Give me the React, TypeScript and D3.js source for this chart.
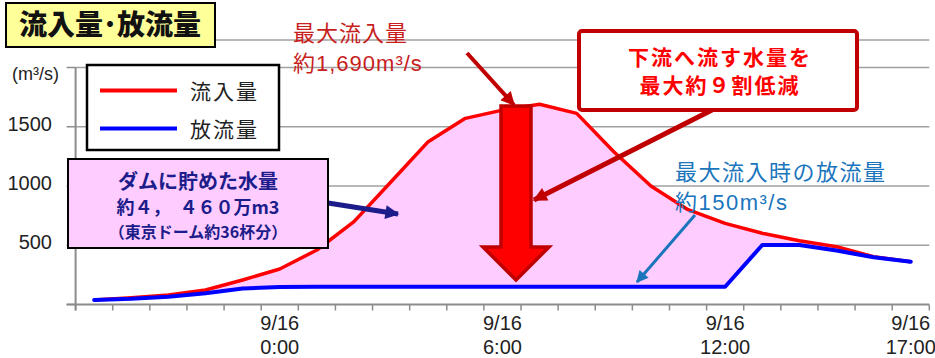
import React, { useEffect, useRef } from "react";
import * as d3 from "d3";

// hourly categories, 9/15 19:00 .. 9/16 17:00
const categories = [
  "9/15 19:00", "9/15 20:00", "9/15 21:00", "9/15 22:00", "9/15 23:00",
  "9/16 0:00", "9/16 1:00", "9/16 2:00", "9/16 3:00", "9/16 4:00", "9/16 5:00",
  "9/16 6:00", "9/16 7:00", "9/16 8:00", "9/16 9:00", "9/16 10:00", "9/16 11:00",
  "9/16 12:00", "9/16 13:00", "9/16 14:00", "9/16 15:00", "9/16 16:00", "9/16 17:00",
];
const inflow = [38, 57, 80, 122, 207, 300, 460, 699, 1036, 1374, 1571, 1640, 1690, 1613, 1289, 1000, 800, 685, 601, 538, 488, 403, 361];
const outflow = [38, 48, 66, 95, 135, 148, 150, 150, 150, 150, 150, 150, 150, 150, 150, 150, 150, 150, 502, 502, 455, 398, 361];
const xTickLabels = ["9/16 0:00", "9/16 6:00", "9/16 12:00", "9/16 17:00"];
const yTicks = [0, 500, 1000, 1500, 2000];
const yLabels = [500, 1000, 1500];

const latin = "'Liberation Sans', Arial, 'Noto Sans CJK JP', sans-serif";
const jp = "'Noto Sans CJK JP', 'Liberation Sans', sans-serif";

const App = () => {
  const svgRef = useRef<SVGSVGElement>(null);

  useEffect(() => {
    const width = 935, height = 358;
    const left = 75.6, right = 929.3, top = 67.5, bottom = 304.5;
    const gridColor = "#a0a0a0", axisColor = "#8c8c8c";
    const darkRed = "#c00000", navy = "#1c1c8a", skyBlue = "#1a75bd";

    const svg = d3.select(svgRef.current)
      .attr("width", width)
      .attr("height", height)
      .html("");

    const x = d3.scaleBand().domain(categories).range([left, right]);
    const y = d3.scaleLinear().domain([0, 2000]).range([bottom, top]);
    const cx = (c: string) => (x(c) as number) + x.bandwidth() / 2;

    // arrow markers
    const defs = svg.append("defs");
    const marker = (id: string, color: string, w: number, h: number) => {
      defs.append("marker")
        .attr("id", id)
        .attr("viewBox", "0 0 10 10")
        .attr("refX", 9)
        .attr("refY", 5)
        .attr("markerUnits", "userSpaceOnUse")
        .attr("markerWidth", w)
        .attr("markerHeight", h)
        .attr("orient", "auto")
        .append("path")
        .attr("d", "M0,0 L10,5 L0,10 Z")
        .attr("fill", color);
    };
    marker("ar-red", darkRed, 16, 14);
    marker("ar-navy", navy, 18, 14);
    marker("ar-blue", skyBlue, 14, 12);

    // decorative top line
    svg.append("line")
      .attr("x1", 215).attr("x2", right).attr("y1", 40).attr("y2", 40)
      .attr("stroke", gridColor).attr("stroke-width", 1.5);

    // gridlines + left ticks
    svg.append("g").selectAll("line")
      .data(yTicks.filter((d) => d > 0))
      .enter().append("line")
      .attr("x1", left).attr("x2", right)
      .attr("y1", (d) => y(d)).attr("y2", (d) => y(d))
      .attr("stroke", gridColor).attr("stroke-width", 1.5);

    svg.append("g").selectAll("line")
      .data(yTicks)
      .enter().append("line")
      .attr("x1", left - 9).attr("x2", left)
      .attr("y1", (d) => y(d)).attr("y2", (d) => y(d))
      .attr("stroke", axisColor).attr("stroke-width", 1.5);

    // stored volume area
    const area = d3.area<number>()
      .x((_, i) => cx(categories[i]))
      .y0((_, i) => y(outflow[i]))
      .y1((d) => y(d));
    svg.append("path")
      .datum(inflow)
      .attr("d", area)
      .attr("fill", "#ffccff")
      .attr("stroke", "#ffffff")
      .attr("stroke-width", 1.5);

    // axes
    svg.append("line")
      .attr("x1", left).attr("x2", left).attr("y1", top).attr("y2", bottom + 6)
      .attr("stroke", axisColor).attr("stroke-width", 2);
    svg.append("line")
      .attr("x1", left - 9).attr("x2", right).attr("y1", bottom).attr("y2", bottom)
      .attr("stroke", axisColor).attr("stroke-width", 2);
    svg.append("g").selectAll("line")
      .data(categories.concat(["end"]))
      .enter().append("line")
      .attr("x1", (d, i) => left + i * x.bandwidth())
      .attr("x2", (d, i) => left + i * x.bandwidth())
      .attr("y1", bottom).attr("y2", bottom + 6)
      .attr("stroke", axisColor).attr("stroke-width", 1.5);

    // y labels
    svg.append("g").selectAll("text")
      .data(yLabels)
      .enter().append("text")
      .attr("x", 52).attr("y", (d) => y(d) + 4)
      .attr("text-anchor", "end")
      .style("font-family", latin).style("font-size", "20px").attr("fill", "#222")
      .text((d) => d);
    svg.append("text")
      .attr("x", 59).attr("y", y(2000) + 12)
      .attr("text-anchor", "end")
      .style("font-family", latin).style("font-size", "18px").attr("fill", "#222")
      .text("(m³/s)");

    // x labels
    const xl = svg.append("g").selectAll("text")
      .data(xTickLabels)
      .enter().append("text")
      .attr("text-anchor", "middle")
      .style("font-family", latin).style("font-size", "20px").attr("fill", "#222");
    xl.append("tspan").attr("x", (d) => cx(d)).attr("y", 330).text((d) => d.split(" ")[0]);
    xl.append("tspan").attr("x", (d) => cx(d)).attr("y", 354).text((d) => d.split(" ")[1]);

    // lines
    const line = d3.line<number>().x((_, i) => cx(categories[i])).y((d) => y(d));
    svg.append("path").datum(inflow).attr("d", line)
      .attr("fill", "none").attr("stroke", "#ff0000").attr("stroke-width", 3.5)
      .attr("stroke-linejoin", "round");
    svg.append("path").datum(outflow).attr("d", line)
      .attr("fill", "none").attr("stroke", "#0000ff").attr("stroke-width", 4)
      .attr("stroke-linejoin", "round").attr("stroke-linecap", "round");

    // title
    svg.append("rect").attr("x", 6).attr("y", 3).attr("width", 209).attr("height", 44)
      .attr("fill", "#ffff99").attr("stroke", "#000").attr("stroke-width", 2);
    svg.append("text").attr("x", 110).attr("y", 35).attr("text-anchor", "middle")
      .style("font-family", jp).style("font-size", "28px").style("font-weight", "900")
      .attr("fill", "#111").text("流入量･放流量");

    // legend
    svg.append("rect").attr("x", 87).attr("y", 65).attr("width", 192).attr("height", 85)
      .attr("fill", "#fff").attr("stroke", "#000").attr("stroke-width", 2.5);
    const legend = [
      { name: "流入量", color: "#ff0000", yy: 90.5 },
      { name: "放流量", color: "#0000ff", yy: 128.5 },
    ];
    legend.forEach((l) => {
      svg.append("line").attr("x1", 100).attr("x2", 177).attr("y1", l.yy).attr("y2", l.yy)
        .attr("stroke", l.color).attr("stroke-width", 4);
      svg.append("text").attr("x", 190).attr("y", l.yy + 8)
        .style("font-family", jp).style("font-size", "21px").style("letter-spacing", "2px")
        .attr("fill", "#222").text(l.name);
    });

    // storage box
    svg.append("line").attr("x1", 328).attr("y1", 203).attr("x2", 398).attr("y2", 214)
      .attr("stroke", navy).attr("stroke-width", 5).attr("marker-end", "url(#ar-navy)");
    svg.append("rect").attr("x", 68).attr("y", 159).attr("width", 260).attr("height", 89)
      .attr("fill", "#ffccff").attr("stroke", "#000").attr("stroke-width", 2);
    const st = svg.append("text").attr("text-anchor", "middle")
      .style("font-family", jp).style("font-weight", "bold").attr("fill", navy);
    st.append("tspan").attr("x", 198).attr("y", 189).style("font-size", "20px").text("ダムに貯めた水量");
    st.append("tspan").attr("x", 198).attr("y", 214).style("font-size", "18px").text("約４，　４６０万m3");
    st.append("tspan").attr("x", 198).attr("y", 238).style("font-size", "16px").text("（東京ドーム約36杯分）");

    // peak annotation
    const pk = svg.append("text").style("font-family", latin).style("font-size", "22px")
      .style("letter-spacing", "1px").attr("fill", "#c81e1e");
    pk.append("tspan").attr("x", 293).attr("y", 41).text("最大流入量");
    pk.append("tspan").attr("x", 293).attr("y", 71).text("約1,690m³/s");
    svg.append("line").attr("x1", 467).attr("y1", 53).attr("x2", 514).attr("y2", 105)
      .attr("stroke", darkRed).attr("stroke-width", 4).attr("marker-end", "url(#ar-red)");

    // big down arrow
    svg.append("path")
      .attr("d", "M501,106 L531,106 L531,247 L549,247 L516,280 L483,247 L501,247 Z")
      .attr("fill", "#ff0000").attr("stroke", darkRed).attr("stroke-width", 3.5)
      .attr("stroke-linejoin", "miter");

    // reduction callout
    svg.append("line").attr("x1", 712).attr("y1", 110).attr("x2", 534).attr("y2", 200)
      .attr("stroke", darkRed).attr("stroke-width", 5).attr("marker-end", "url(#ar-red)");
    svg.append("rect").attr("x", 579).attr("y", 31).attr("width", 278).attr("height", 79)
      .attr("rx", 3).attr("fill", "#fff").attr("stroke", darkRed).attr("stroke-width", 4);
    const rd = svg.append("text").attr("text-anchor", "middle")
      .style("font-family", jp).style("font-size", "21px").style("font-weight", "bold")
      .style("letter-spacing", "2px").attr("fill", "#ff0000");
    rd.append("tspan").attr("x", 720).attr("y", 65).text("下流へ流す水量を");
    rd.append("tspan").attr("x", 720).attr("y", 93).text("最大約９割低減");

    // outflow annotation
    const of = svg.append("text").style("font-family", latin).style("font-size", "22px")
      .style("letter-spacing", "1.5px").attr("fill", skyBlue);
    of.append("tspan").attr("x", 675).attr("y", 180).text("最大流入時の放流量");
    of.append("tspan").attr("x", 675).attr("y", 210).text("約150m³/s");
    svg.append("line").attr("x1", 695).attr("y1", 215).attr("x2", 637).attr("y2", 282)
      .attr("stroke", skyBlue).attr("stroke-width", 3).attr("marker-end", "url(#ar-blue)");
  }, []);

  return <svg ref={svgRef} style={{ position: "absolute", left: 0, top: 0 }}></svg>;
};

export default App;
